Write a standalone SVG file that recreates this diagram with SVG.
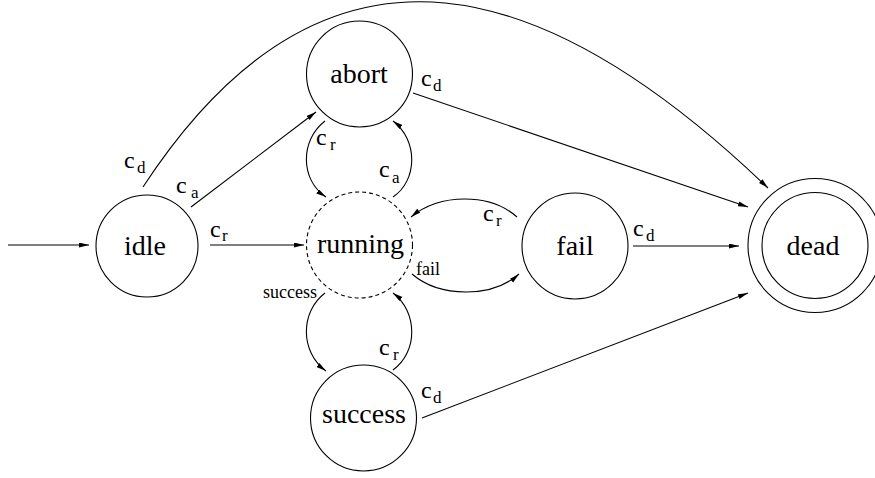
<svg xmlns="http://www.w3.org/2000/svg" width="875" height="478" viewBox="0 0 875 478">
<defs>
<marker id="ah" markerWidth="11" markerHeight="6" refX="10" refY="2.5" orient="auto" markerUnits="userSpaceOnUse">
<path d="M0,0 L10,2.5 L0,5 Z" fill="#000"/>
</marker>
<style>
.node{fill:none;stroke:#000;stroke-width:1.1}
.dash{stroke-dasharray:4,3}
text{font-family:'Liberation Serif','Times New Roman',Times,serif;fill:#000}
.lbl{font-size:28px;text-anchor:middle}
.c{font-size:24px}
.s{font-size:17px}
.sm{font-size:18px}
.e{fill:none;stroke:#000;stroke-width:1.1;marker-end:url(#ah)}
</style>
</defs>
<rect width="875" height="478" fill="#fff"/>
<g id="idle"><circle class="node" cx="147" cy="246" r="51"/><text class="lbl" x="145" y="255">idle</text></g>
<g id="abort"><circle class="node" cx="359.5" cy="74" r="53"/><text class="lbl" x="359" y="83">abort</text></g>
<g id="running"><circle class="node dash" cx="359.5" cy="245" r="53"/><text class="lbl" x="360.5" y="253">running</text></g>
<g id="fail"><circle class="node" cx="575" cy="246" r="53"/><text class="lbl" x="575" y="255">fail</text></g>
<g id="success"><circle class="node" cx="363.5" cy="418" r="53"/><text class="lbl" x="364" y="423">success</text></g>
<g id="dead"><circle class="node" cx="815" cy="245.5" r="67"/><circle class="node" cx="815" cy="245.5" r="53"/><text class="lbl" x="813" y="255">dead</text></g>
<g id="connectors">
<path class="e" d="M8,245 L89,245"/>
<path class="e" d="M210,245 L304,245"/>
<path class="e" d="M191,207 L316,112"/>
<path class="e" d="M143,187 C330,-99 553,-18 768,188"/>
<path class="e" d="M413,93 L748,207"/>
<path class="e" d="M325,121 C300,140 300,180 326,197"/>
<path class="e" d="M393,197 C418,180 418,140 393,121"/>
<path class="e" d="M517,217 C490,193 440,193 411,217"/>
<path class="e" d="M412,274 C440,298 492,298 519,274"/>
<path class="e" d="M325,293 C300,312 300,352 326,371"/>
<path class="e" d="M393,370 C418,352 418,312 393,293"/>
<path class="e" d="M633,246 L739,246"/>
<path class="e" d="M422,418 L748,293"/>
</g>
<g id="labels">
<text class="c" x="210" y="237">c<tspan class="s" x="222" y="241">r</tspan></text>
<text class="c" x="176" y="193">c<tspan class="s" x="191" y="198">a</tspan></text>
<text class="c" x="124" y="168">c<tspan class="s" x="137" y="173">d</tspan></text>
<text class="c" x="421" y="86">c<tspan class="s" x="433" y="91">d</tspan></text>
<text class="c" x="316" y="145">c<tspan class="s" x="330" y="150">r</tspan></text>
<text class="c" x="379" y="177">c<tspan class="s" x="392" y="183">a</tspan></text>
<text class="c" x="483" y="221">c<tspan class="s" x="496" y="226">r</tspan></text>
<text class="sm" x="416" y="275">fail</text>
<text class="sm" x="263" y="298">success</text>
<text class="c" x="379" y="355">c<tspan class="s" x="393" y="360">r</tspan></text>
<text class="c" x="633" y="236">c<tspan class="s" x="646" y="241">d</tspan></text>
<text class="c" x="421" y="398">c<tspan class="s" x="433" y="403">d</tspan></text>
</g>
</svg>
